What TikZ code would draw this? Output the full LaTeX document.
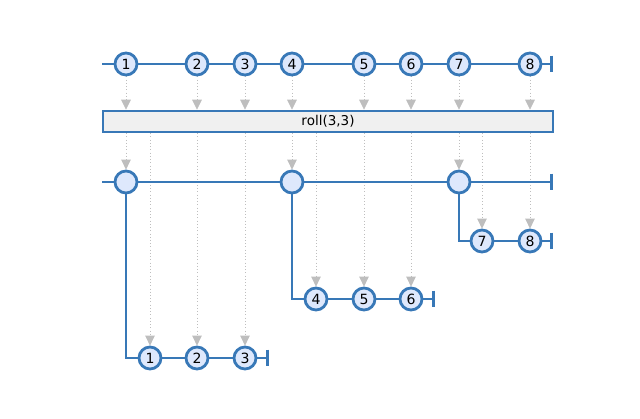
\documentclass[tikz,border=0pt]{standalone}
\usepackage{fontspec}
\setmainfont{DejaVu Sans}
\usetikzlibrary{arrows.meta,positioning,backgrounds}
\definecolor{mblue}{RGB}{56,120,183}
\definecolor{mfill}{RGB}{222,232,252}
\definecolor{mgray}{RGB}{190,190,190}
\definecolor{opfill}{RGB}{240,240,240}

\begin{document}
\begin{tikzpicture}[
    x=0.025cm, y=-0.025cm,
    marble/.style={circle, draw=mblue, fill=mfill, line width=2pt,
                   minimum size=5.5mm, inner sep=0pt,
                   font=\fontsize{10}{12}\selectfont},
    op/.style={rectangle, draw=mblue, fill=opfill, line width=1.8pt,
               minimum width=11.25cm, minimum height=5.25mm, inner sep=0pt,
               font=\fontsize{9.6}{11}\selectfont},
    track/.style={draw=mblue, line width=1.8pt, -{Bar[width=4.2mm]}},
    flow/.style={draw=mgray, line width=0.6pt, dash pattern=on 0.6pt off 1.7pt,
                 -{Triangle[length=2.5mm, width=2.4mm]}}
  ]
  \useasboundingbox (0,0) rectangle (640,419);

  % source stream
  \coordinate (tin) at (102,64);
  \coordinate (tout) at (553,64);
  \node[marble] (t1) at (126,64) {1};
  \node[marble] (t2) at (197,64) {2};
  \node[marble] (t3) at (245,64) {3};
  \node[marble] (t4) at (292,64) {4};
  \node[marble] (t5) at (364,64) {5};
  \node[marble] (t6) at (411,64) {6};
  \node[marble] (t7) at (459,64) {7};
  \node[marble] (t8) at (530,64) {8};

  \node[op] (roll) at (328,121.5) {roll(3,3)};

  % stream of windows
  \coordinate (win) at (102,182);
  \coordinate (wout) at (553,182);
  \node[marble] (w1) at (126,182) {};
  \node[marble] (w2) at (292,182) {};
  \node[marble] (w3) at (459,182) {};

  % windows
  \node[marble] (a1) at (150,358) {1};
  \node[marble] (a2) at (197,358) {2};
  \node[marble] (a3) at (245,358) {3};
  \coordinate (aout) at (269,358);
  \node[marble] (b1) at (316,299) {4};
  \node[marble] (b2) at (364,299) {5};
  \node[marble] (b3) at (411,299) {6};
  \coordinate (bout) at (435,299);
  \node[marble] (c1) at (482,241) {7};
  \node[marble] (c2) at (530,241) {8};
  \coordinate (cout) at (553,241);

  \begin{scope}[on background layer]
    \foreach \n in {1,...,8}
      \draw[flow] (t\n) -- (t\n |- roll.north);
    \foreach \m in {w1,w2,w3,a1,a2,a3,b1,b2,b3,c1,c2}
      \draw[flow] (roll.south -| \m) -- (\m);
    \draw[track] (tin) -- (tout);
    \draw[track] (win) -- (wout);
    \draw[track] (w1.center) |- (a1.center) -- (aout);
    \draw[track] (w2.center) |- (b1.center) -- (bout);
    \draw[track] (w3.center) |- (c1.center) -- (cout);
  \end{scope}
\end{tikzpicture}
\end{document}
